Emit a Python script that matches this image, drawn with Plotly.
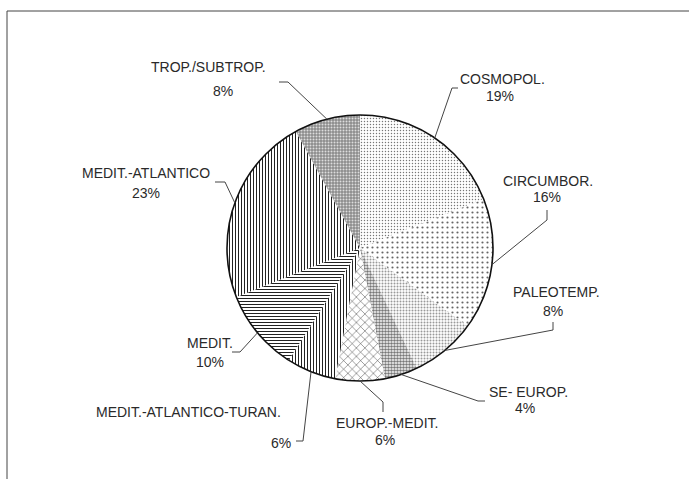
import math
import plotly.graph_objects as go

# ---- data ----
labels = ["COSMOPOL.", "CIRCUMBOR.", "PALEOTEMP.", "SE- EUROP.", "EUROP.-MEDIT.",
          "MEDIT.-ATLANTICO-TURAN.", "MEDIT.", "MEDIT.-ATLANTICO", "TROP./SUBTROP."]
values = [19, 16, 8, 4, 6, 6, 10, 23, 8]

# ---- styles ----
pat_shape = [".", ".", ".", ".", "x", "|", "-", "|", "."]
pat_size = [3, 5, 3, 3, 6, 3, 3, 3, 3]
pat_solid = [0.18, 0.15, 0.35, 0.55, 0.15, 0.35, 0.35, 0.35, 0.35]
pat_fg = ["#777", "#666", "#999", "#777", "#333", "#222", "#222", "#222", "#ddd"]
pat_bg = ["#fff", "#fff", "#fff", "#fff", "#fff", "#fff", "#fff", "#fff", "#8c8c8c"]

W, H = 689, 479
CX, CY, R = 360, 248, 133


def px(x):
    return x / W


def py(y):
    return 1 - y / H


# label layout (pixel positions): name centre, pct centre, leader elbow points
name_pos = [(502, 79), (548, 181), (556, 292), (528, 392), (387, 423),
            (189, 412), (210, 343), (146, 173), (208, 67)]
pct_pos = [(500, 96), (547, 197), (553, 311), (525, 408), (385, 440),
           (281, 443), (210, 362), (146, 193), (223, 91)]
elbows = [
    [(458, 88), (452, 88)],
    [(547, 210), (547, 220)],
    [(553, 322), (553, 330)],
    [(485, 401), (478, 401)],
    [(383, 412), (383, 402)],
    [(296, 441), (303, 441)],
    [(232, 352), (240, 352)],
    [(215, 182), (225, 182)],
    [(279, 82), (288, 82)],
]

dom_x = [px(CX - R), px(CX + R)]
dom_y = [py(CY + R), py(CY - R)]

fig = go.Figure()
fig.add_trace(go.Pie(
    labels=labels, values=values, sort=False, direction="clockwise", rotation=0,
    textinfo="none", hoverinfo="label+percent", showlegend=False,
    domain=dict(x=dom_x, y=dom_y),
    marker=dict(
        colors=pat_bg,
        line=dict(width=0),
        pattern=dict(shape=pat_shape, size=pat_size, solidity=pat_solid,
                     fgcolor=pat_fg, bgcolor=pat_bg, fillmode="replace"),
    ),
))
# outline circle
fig.add_trace(go.Pie(
    values=[1], labels=["outline"], sort=False, textinfo="none", hoverinfo="skip",
    showlegend=False, domain=dict(x=dom_x, y=dom_y),
    marker=dict(colors=["rgba(0,0,0,0)"], line=dict(color="#111", width=1.6)),
))

shapes = []
annotations = []
total = sum(values)
cum = 0
for i, v in enumerate(values):
    mid = (cum + v / 2) / total * 2 * math.pi
    cum += v
    ex = CX + R * math.sin(mid)
    ey = CY - R * math.cos(mid)
    pts = elbows[i] + [(ex, ey)]
    path = "M " + " L ".join(f"{px(x)},{py(y)}" for x, y in pts)
    shapes.append(dict(type="path", path=path, xref="paper", yref="paper",
                       line=dict(color="#444", width=1)))
    nx, ny = name_pos[i]
    annotations.append(dict(x=px(nx), y=py(ny), xref="paper", yref="paper",
                            text=labels[i], showarrow=False,
                            xanchor="center", yanchor="middle"))
    qx, qy = pct_pos[i]
    annotations.append(dict(x=px(qx), y=py(qy), xref="paper", yref="paper",
                            text=f"{v}%", showarrow=False,
                            xanchor="center", yanchor="middle"))

# outer frame
shapes.append(dict(type="rect", xref="paper", yref="paper",
                   x0=px(7), y0=py(11), x1=px(700), y1=py(495),
                   line=dict(color="#444", width=1)))

fig.update_layout(
    width=W, height=H, margin=dict(l=0, r=0, t=0, b=0),
    paper_bgcolor="white", plot_bgcolor="white",
    font=dict(family="Liberation Sans, Arial, sans-serif", size=14, color="#2a2a2a"),
    shapes=shapes, annotations=annotations,
)

fig.write_html("out.html", config={"displayModeBar": False},
               post_script="document.body.style.margin='0px';document.body.style.overflow='hidden';")
